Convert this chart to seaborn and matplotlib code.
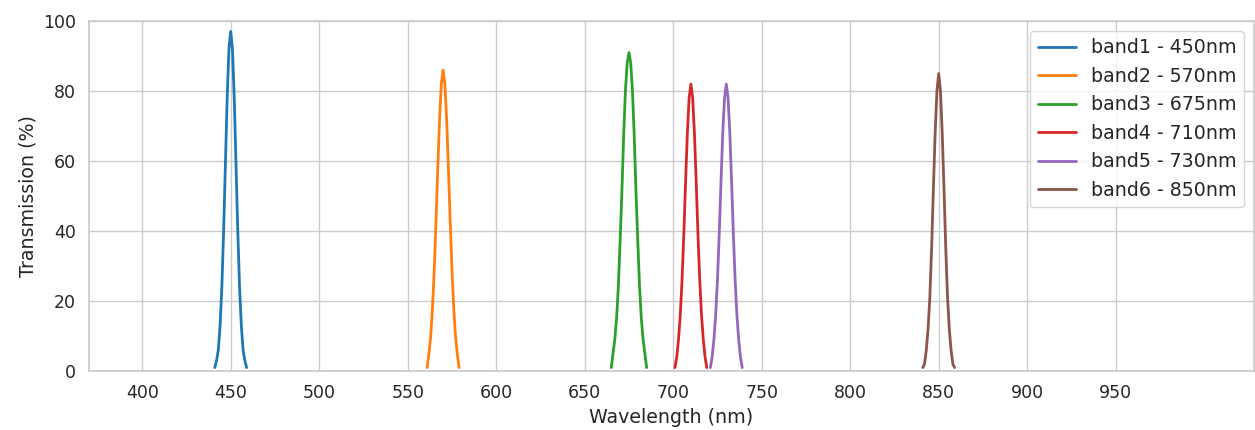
import numpy as np
import pandas as pd
import matplotlib
matplotlib.use("Agg")
import matplotlib.pyplot as plt
import seaborn as sns

# band names and centre wavelengths (nm)
bands = ["band1 - 450nm", "band2 - 570nm", "band3 - 675nm",
         "band4 - 710nm", "band5 - 730nm", "band6 - 850nm"]
centres = [450, 570, 675, 710, 730, 850]

# offsets from the centre (nm) where transmission was read
offsets = list(range(-10, 11))

# transmission (%) (None = curve not drawn there)
t_band1 = [None, 1, 3, 6, 13, 24, 40, 59, 78, 92, 97, 92, 78, 59, 40, 24, 13, 6, 3, 1, None]
t_band2 = [None, 1, 5, 10, 18, 29, 43, 58, 72, 82, 86, 82, 72, 58, 43, 29, 18, 10, 5, 1, None]
t_band3 = [1, 5, 9, 15, 24, 37, 51, 67, 80, 88, 91, 88, 80, 67, 51, 37, 24, 15, 9, 5, 1]
t_band4 = [None, 1, 4, 9, 16, 26, 39, 54, 68, 78, 82, 78, 68, 54, 39, 26, 16, 9, 4, 1, None]
t_band5 = [None, 1, 4, 9, 16, 26, 39, 54, 68, 78, 82, 78, 68, 54, 39, 26, 16, 9, 4, 1, None]
t_band6 = [None, 1, 2, 6, 12, 21, 35, 52, 68, 80, 85, 80, 68, 52, 35, 21, 12, 6, 2, 1, None]

values = [t_band1, t_band2, t_band3, t_band4, t_band5, t_band6]

rows = []
for name, c, vals in zip(bands, centres, values):
    for o, v in zip(offsets, vals):
        if v is None:
            continue
        rows.append({"wavelength": c + o, "transmission": v, "band": name})
df = pd.DataFrame(rows)

sns.set_theme(style="whitegrid", font_scale=1.14)

fig = plt.figure(figsize=(12.55, 4.3), dpi=100)
ax = fig.add_axes([0.071, 0.137, 0.928, 0.814])

sns.lineplot(data=df, x="wavelength", y="transmission", hue="band",
             palette="tab10", linewidth=2, ax=ax)

ax.set_xlim(370, 1028)
ax.set_ylim(0, 100)
ax.set_xticks(range(400, 1000, 50))
ax.set_xlabel("Wavelength (nm)")
ax.set_ylabel("Transmission (%)")
ax.legend(loc="upper right", title=None, fontsize=13.7)

plt.savefig("out.png", dpi=100)
